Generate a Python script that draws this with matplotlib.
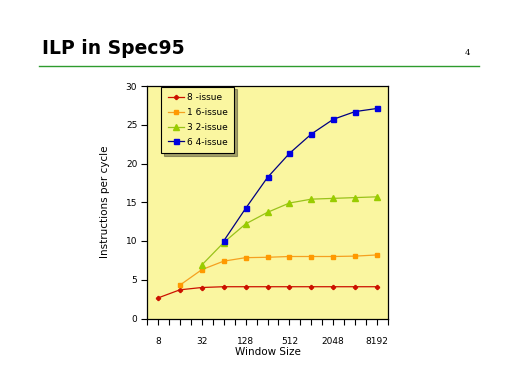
import matplotlib
matplotlib.use("Agg")
import matplotlib.pyplot as plt
from matplotlib.lines import Line2D
import numpy as np

window_sizes = ["8", "16", "32", "64", "128", "256", "512", "1024", "2048", "4096", "8192"]
issue8 = [2.65, 3.7, 4.0, 4.1, 4.1, 4.1, 4.1, 4.1, 4.1, 4.1, 4.1]
issue16 = [None, 4.3, 6.3, 7.4, 7.85, 7.9, 8.0, 8.0, 8.0, 8.05, 8.2]
issue32 = [None, None, 6.9, 9.8, 12.2, 13.7, 14.9, 15.4, 15.5, 15.6, 15.7]
issue64 = [None, None, None, 10.0, 14.2, 18.2, 21.3, 23.8, 25.7, 26.7, 27.1]
series_names = ["8 -issue", "1 6-issue", "3 2-issue", "6 4-issue"]
y_ticks = [0, 5, 10, 15, 20, 25, 30]

fig = plt.figure(figsize=(5.12, 3.84), dpi=100)
fig.patch.set_facecolor("white")

# Slide title and rule
fig.text(42/512, 1-48/384, "ILP in Spec95", fontsize=13.5, fontweight="bold",
         family="DejaVu Sans", va="center", ha="left")
fig.text(465/512, 1-53/384, "4", fontsize=6, family="DejaVu Serif", va="center", ha="left")
fig.add_artist(Line2D([39/512, 479/512], [1-65.5/384, 1-65.5/384], color="#2E9B2E", lw=1.0))

ax = fig.add_axes([147/512, 1-318.5/384, 241/512, 232.5/384])
ax.set_facecolor("#FAF6A0")

x = np.arange(len(window_sizes))

def arr(v):
    return np.array([np.nan if a is None else a for a in v], dtype=float)

ax.plot(x, arr(issue8), color="#CC1100", lw=0.9, marker="P", ms=2.8,
        markerfacecolor="#CC1100", markeredgecolor="#CC1100", label=series_names[0])
ax.plot(x, arr(issue16), color="#F5A020", lw=0.9, marker="s", ms=3.5,
        markerfacecolor="#FF9900", markeredgecolor="#FF9900", label=series_names[1])
ax.plot(x, arr(issue32), color="#99C21A", lw=0.9, marker="^", ms=3.8,
        markerfacecolor="#99CC00", markeredgecolor="#99CC00", label=series_names[2])
ax.plot(x, arr(issue64), color="#000080", lw=0.9, marker="s", ms=3.6,
        markerfacecolor="#0000E0", markeredgecolor="#0000E0", label=series_names[3])

ax.set_xlim(-0.5, len(window_sizes) - 0.5)
ax.set_ylim(0, 30)
ax.set_yticks(y_ticks)
ax.set_yticklabels([str(t) for t in y_ticks], fontsize=6.5)
ax.set_xticks(x[::2])
ax.set_xticklabels(window_sizes[::2], fontsize=6.5)
ax.set_xticks(np.arange(-0.5, len(window_sizes), 0.5), minor=True)
ax.tick_params(axis="x", which="both", length=4, width=0.8, direction="out", pad=9)
ax.tick_params(axis="y", which="major", length=4, width=0.8, direction="out", pad=3)
for s in ax.spines.values():
    s.set_color("black")
    s.set_linewidth(0.9)

ax.set_xlabel("Window Size", fontsize=7.5, labelpad=1)
ax.set_ylabel("Instructions per cycle", fontsize=7.5, labelpad=11)

leg = ax.legend(loc="upper left", bbox_to_anchor=(0.06, 0.997), borderaxespad=0,
                fontsize=6.5, frameon=True, fancybox=False, shadow=True, borderpad=0.7,
                handlelength=1.8, labelspacing=0.65, handletextpad=0.3)
leg.get_frame().set_edgecolor("black")
leg.get_frame().set_facecolor("#FAF6A0")
leg.get_frame().set_linewidth(0.8)

fig.savefig("out.png", dpi=100, facecolor="white")
